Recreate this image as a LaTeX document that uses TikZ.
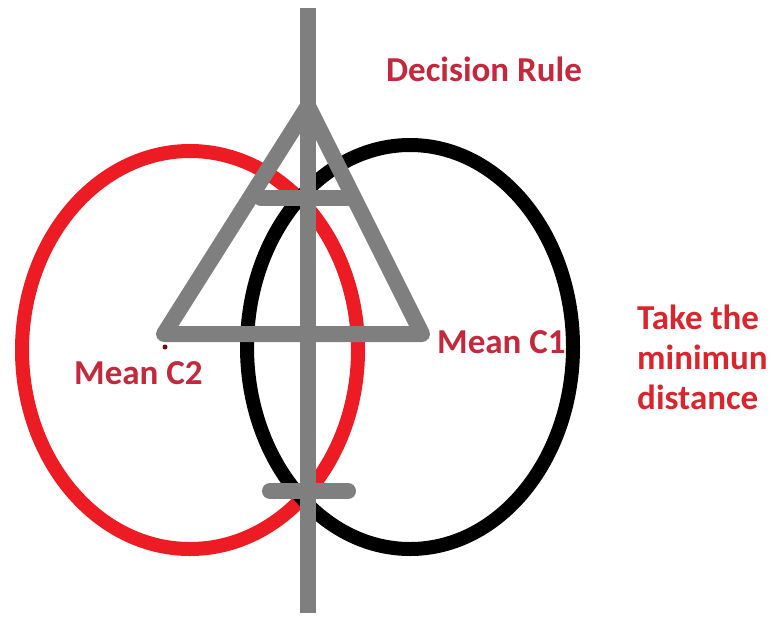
\documentclass[tikz,border=0pt]{standalone}
\usepackage{fontspec}
\setmainfont{Carlito}
\usepackage{xcolor}
\usepackage{tikz}
\usetikzlibrary{positioning,calc}
\definecolor{PaintRed}{HTML}{ED1C24}
\definecolor{PaintGray}{HTML}{7F7F7F}
\definecolor{LabelRed}{HTML}{C4283C}
\definecolor{NoteRed}{HTML}{D8262E}
\definecolor{DotRed}{HTML}{6B0F1A}

\begin{document}
\begin{tikzpicture}[x=1pt,y=-1pt,
stroke/.style={line width=16pt,draw=PaintGray,line cap=round,line join=round},
cls/.style={line width=14pt},
lbl/.style={font=\fontsize{35}{40}\selectfont\bfseries,text=LabelRed,inner sep=0pt,anchor=west}]
\useasboundingbox (0,0) rectangle (778,616);
% class clouds
\draw[cls,draw=PaintRed] (190,350) ellipse [x radius=168,y radius=199];
\draw[cls,draw=black] (410,347) ellipse [x radius=163,y radius=202];
% decision line and triangle
\coordinate (top) at (308,8);
\coordinate (bot) at (308,613);
\coordinate (apex) at (308,106);
\coordinate (m2) at (164,334);
\coordinate (m1) at (422,334);
\coordinate (ua) at (261,198);
\coordinate (ub) at (352,198);
\coordinate (la) at (270,491);
\coordinate (lb) at (348,491);
\draw[stroke,line cap=butt] (top)--(bot);
\draw[stroke] (m2)--(apex)--(m1)--cycle;
\draw[stroke] (ua)--(ub);
\draw[stroke] (la)--(lb);
\fill[DotRed] (165,347) circle (2.5);
% labels
\node[lbl,anchor=center] (rule) at (484,69) {Decision Rule};
\node[lbl] (c1) at (437,342) {Mean C1};
\node[lbl] (c2) at (74,373) {Mean C2};
\node[lbl,text=NoteRed,align=left] (note) at (637,357) {Take the\\minimun\\distance};
\end{tikzpicture}
\end{document}
